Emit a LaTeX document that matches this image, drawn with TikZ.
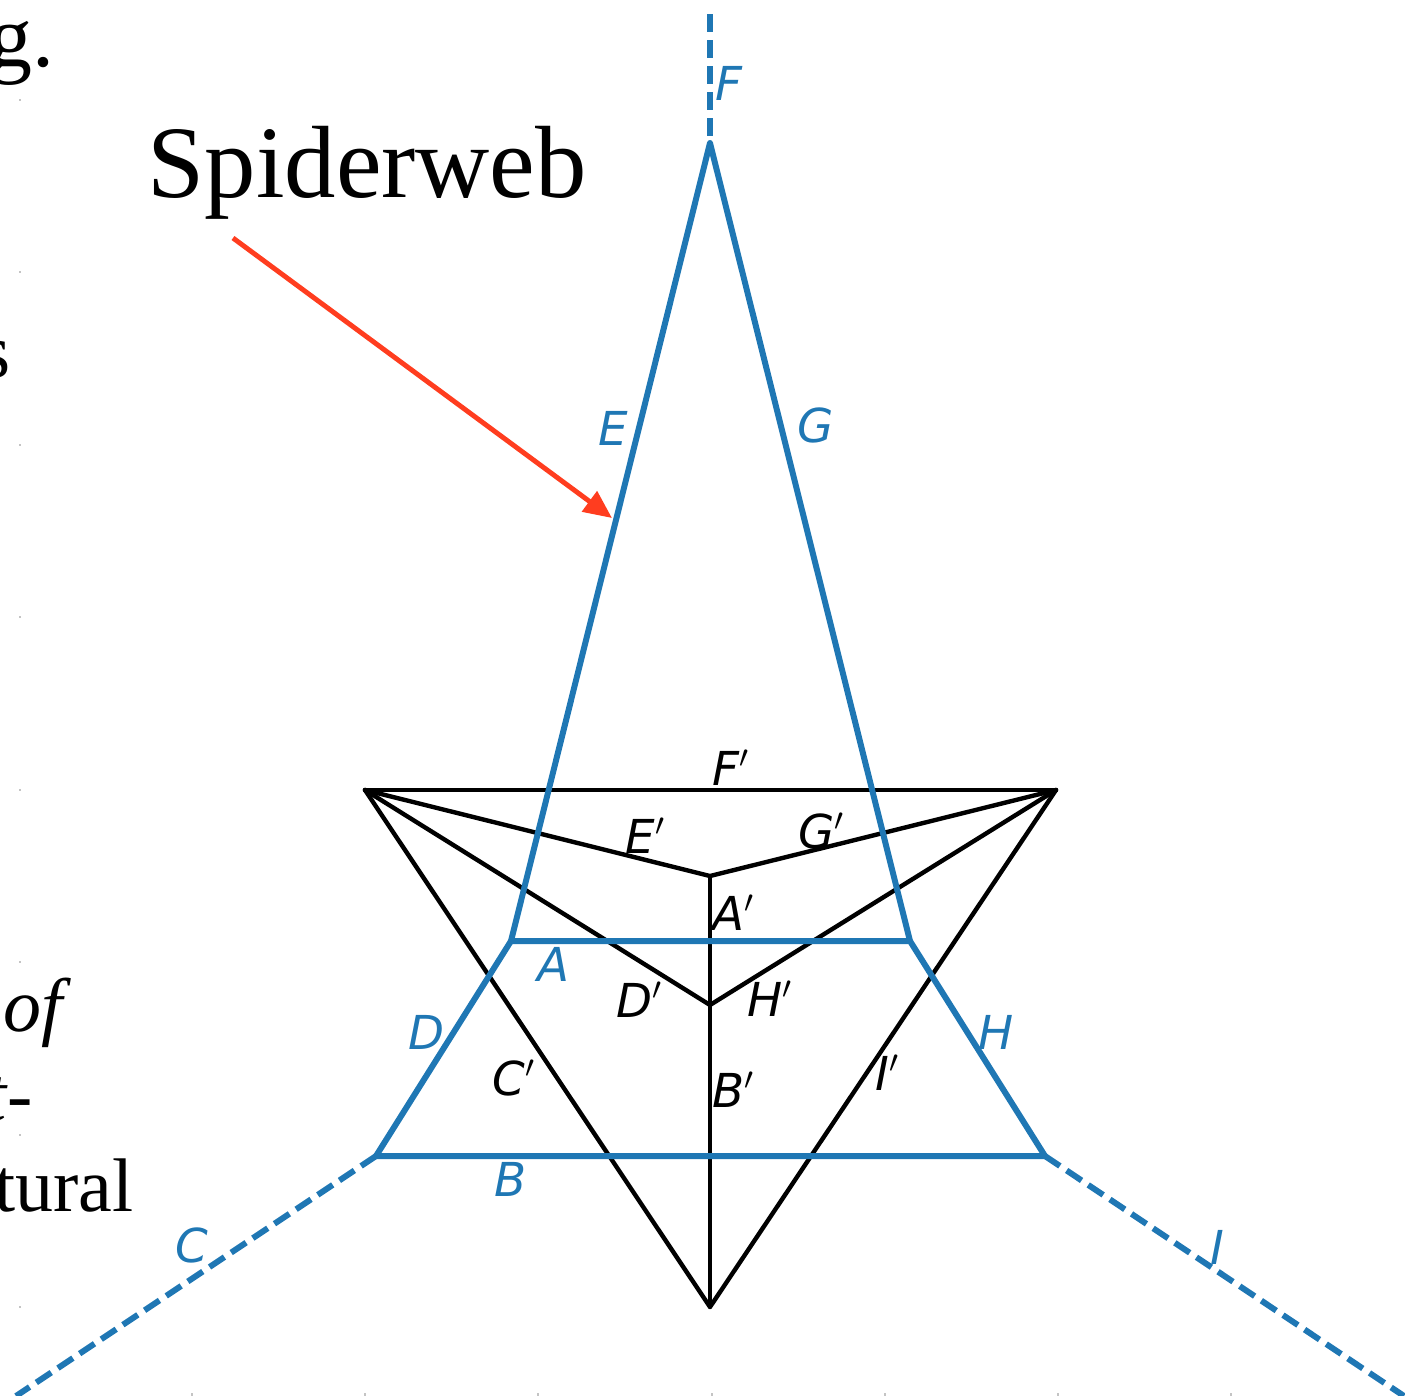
\documentclass[tikz,border=0pt]{standalone}
\usepackage{fontspec}
\setmainfont{Liberation Serif}
\newfontfamily\labelfont{DejaVu Sans}
\usetikzlibrary{arrows.meta}
\definecolor{WebBlue}{HTML}{1F77B4}
\definecolor{WebRed}{HTML}{FF3D1F}
\definecolor{WebTick}{HTML}{C4C4C4}
\tikzset{
  webline/.style={draw=WebBlue, line width=1.7pt, line join=round},
  webdash/.style={draw=WebBlue, line width=1.7pt, dash pattern=on 5.1pt off 2.3pt},
  dualline/.style={draw=black, line width=1.25pt, line join=round, line cap=round},
  pointer/.style={-{Triangle[length=8pt,width=7pt]}, draw=WebRed, fill=WebRed, line width=1.4pt},
  weblabel/.style={font=\labelfont\itshape\fontsize{13.3pt}{15pt}\selectfont, text=WebBlue, inner sep=0pt},
  duallabel/.style={font=\labelfont\itshape\fontsize{13.3pt}{15pt}\selectfont, text=black, inner sep=0pt},
  pagetext/.style={font=\fontsize{21.6pt}{24pt}\selectfont, inner sep=0pt, anchor=base east},
  gridtick/.style={draw=WebTick, line width=0.5pt},
}
\begin{document}
\begin{tikzpicture}[x=0.01cm, y=-0.01cm]
  \useasboundingbox (0,0) rectangle (1405,1396);
  \clip (0,0) rectangle (1405,1396);

  % ---- Page ticks ----
  \foreach \ypos in {100,272,445,617,790,962,1135,1307}
    \draw[gridtick] (19,\ypos) -- (21,\ypos);
  \foreach \xpos in {192,365,538,712,885,1058,1231}
    \draw[gridtick] (\xpos,1393) -- (\xpos,1396);

  % ---- Clipped page text ----
  \node[pagetext, font=\fontsize{25pt}{28pt}\selectfont] (textg) at (55,66) {g.};
  \node[pagetext, font=\fontsize{22pt}{24pt}\selectfont] (texts) at (11,377) {s};
  \node[pagetext] (textof) at (63,1031) {\itshape of};
  \node[pagetext] (textt) at (33,1120) {\itshape t-};
  \node[pagetext] (texttural) at (134,1211) {tural};

  % ---- Web vertices ----
  \coordinate (top) at (710,14);
  \coordinate (apex) at (710,143);
  \coordinate (upleft) at (511,941);
  \coordinate (upright) at (910,941);
  \coordinate (lowleft) at (376,1156);
  \coordinate (lowright) at (1045,1156);
  \coordinate (endleft) at (16,1396);
  \coordinate (endright) at (1404,1396);

  % ---- Dual vertices ----
  \coordinate (dualleft) at (365,790);
  \coordinate (dualright) at (1056,790);
  \coordinate (dualup) at (710,876);
  \coordinate (dualmid) at (710,1005);
  \coordinate (dualbot) at (710,1307);

  % ---- Dual diagram ----
  \draw[dualline] (dualleft) -- (dualright);
  \draw[dualline] (dualleft) -- (dualup) -- (dualright);
  \draw[dualline] (dualleft) -- (dualmid) -- (dualright);
  \draw[dualline] (dualleft) -- (dualbot) -- (dualright);
  \draw[dualline] (dualup) -- (dualbot);

  % ---- Spiderweb ----
  \draw[webline] (upleft) -- (apex) -- (upright) -- cycle;
  \draw[webline] (upleft) -- (lowleft) -- (lowright) -- (upright);
  \draw[webdash] (top) -- (apex);
  \draw[webdash] (lowleft) -- (endleft);
  \draw[webdash] (lowright) -- (endright);

  % ---- Title and pointer ----
  \node[font=\fontsize{29.2pt}{32pt}\selectfont, inner sep=0pt, anchor=base west] (title) at (147,197) {Spiderweb};
  \coordinate (pointstart) at (233,238);
  \coordinate (pointtip) at (612,518);
  \draw[pointer] (pointstart) -- (pointtip);

  % ---- Web labels ----
  \node[weblabel] (lA) at (553,964) {A};
  \node[weblabel] (lB) at (511,1179) {B};
  \node[weblabel] (lC) at (192,1245) {C};
  \node[weblabel] (lD) at (427,1032) {D};
  \node[weblabel] (lE) at (613,428) {E};
  \node[weblabel] (lF) at (729,83) {F};
  \node[weblabel] (lG) at (816,425) {G};
  \node[weblabel] (lH) at (996,1032) {H};
  \node[weblabel] (lI) at (1217,1247) {I};

  % ---- Dual labels ----
  \node[duallabel] (dA) at (734,913) {A$'$};
  \node[duallabel] (dB) at (734,1090) {B$'$};
  \node[duallabel] (dC) at (514,1078) {C$'$};
  \node[duallabel] (dD) at (640,1000) {D$'$};
  \node[duallabel] (dE) at (646,836) {E$'$};
  \node[duallabel] (dF) at (731,768) {F$'$};
  \node[duallabel] (dG) at (822,831) {G$'$};
  \node[duallabel] (dH) at (770,999) {H$'$};
  \node[duallabel] (dI) at (888,1073) {I$'$};

\end{tikzpicture}
\end{document}
